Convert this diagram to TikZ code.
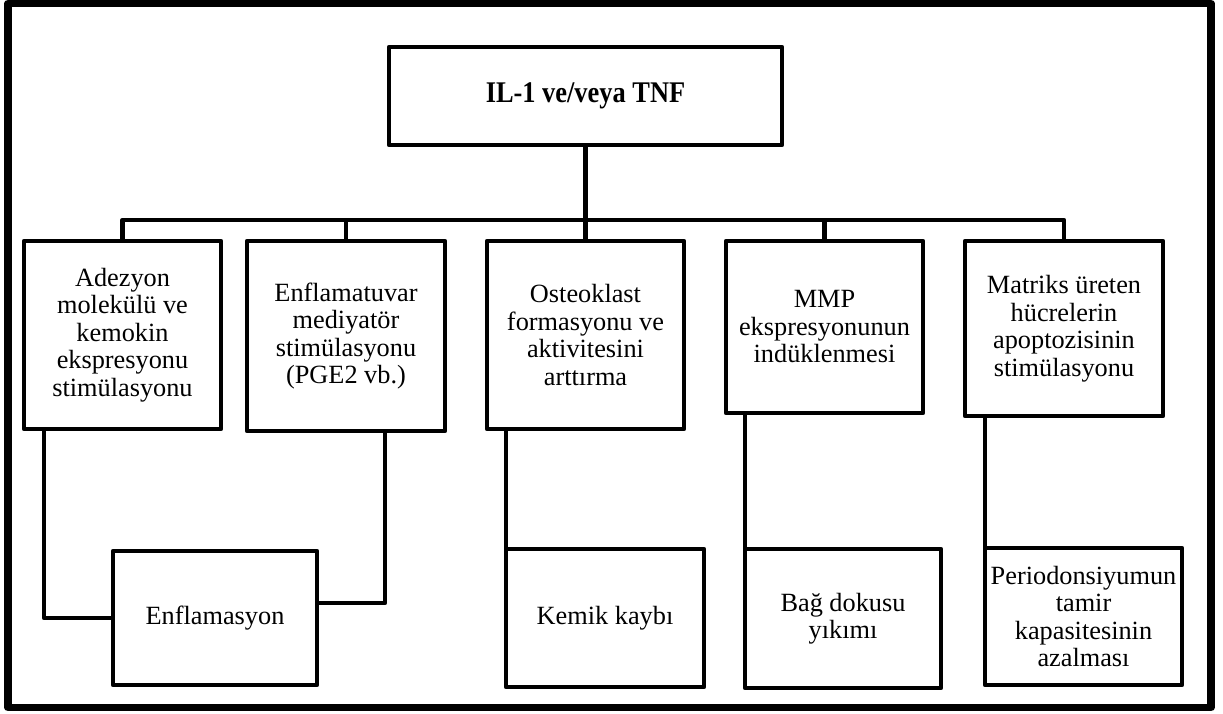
\documentclass[tikz,border=0pt]{standalone}
\usepackage{fontspec}
\setmainfont{Liberation Serif}
\newfontfamily\titlefont[FakeStretch=0.88]{Liberation Serif}
\begin{document}
\begin{tikzpicture}[x=1pt,y=-1pt,
  box/.style={draw, line width=4.5pt, line join=round, inner sep=0pt, outer sep=0pt, align=center,
    font=\fontsize{26.3}{27.5}\selectfont},
  conn/.style={line width=4.5pt, line join=round}]
\useasboundingbox (0,0) rectangle (1223,713);
\draw[line width=7.5pt, line join=round] (8,3.5) rectangle (1211,707.5);

\node[box, minimum width=393pt, minimum height=98pt, font=\titlefont\bfseries\fontsize{30}{32}\selectfont] (top) at (585.5,96) {IL-1 ve/veya TNF};

\node[box, minimum width=197pt, minimum height=188pt] (b1) at (122.5,335) {Adezyon\\molekülü ve\\kemokin\\ekspresyonu\\stimülasyonu};
\node[box, minimum width=198pt, minimum height=190pt] (b2) at (346,336) {Enflamatuvar\\mediyatör\\stimülasyonu\\(PGE2 vb.)};
\node[box, minimum width=197pt, minimum height=188pt] (b3) at (585.5,335) {Osteoklast\\formasyonu ve\\aktivitesini\\arttırma};
\node[box, minimum width=197pt, minimum height=172pt] (b4) at (824.5,327) {MMP\\ekspresyonunun\\indüklenmesi};
\node[box, minimum width=198pt, minimum height=175pt] (b5) at (1064,328.5) {Matriks üreten\\hücrelerin\\apoptozisinin\\stimülasyonu};

\node[box, minimum width=204pt, minimum height=134pt] (c1) at (215,618) {Enflamasyon};
\node[box, minimum width=198pt, minimum height=138pt] (c2) at (605,618) {Kemik kaybı};
\node[box, minimum width=196pt, minimum height=139pt] (c3) at (843,618.5) {Bağ dokusu\\yıkımı};
\node[box, minimum width=197pt, minimum height=137pt] (c4) at (1083.5,616.5) {Periodonsiyumun\\tamir\\kapasitesinin\\azalması};

\coordinate (bus) at (585.5,220);
\draw[conn] (top.south) -- (top.south |- bus);
\draw[conn] (b1.north) |- (bus) -| (b5.north);
\draw[conn] (b2.north) -- (b2.north |- bus);
\draw[conn] (b3.north) -- (b3.north |- bus);
\draw[conn] (b4.north) -- (b4.north |- bus);

\draw[conn] (c1.west) -| ([xshift=20pt]b1.south west);
\draw[conn] ([yshift=15pt]c1.east) -| ([xshift=-60pt]b2.south east);
\draw[conn] (c2.north west) -- (c2.north west |- b3.south);
\draw[conn] (c3.north west) -- (c3.north west |- b4.south);
\draw[conn] (c4.north west) -- (c4.north west |- b5.south);
\end{tikzpicture}
\end{document}
